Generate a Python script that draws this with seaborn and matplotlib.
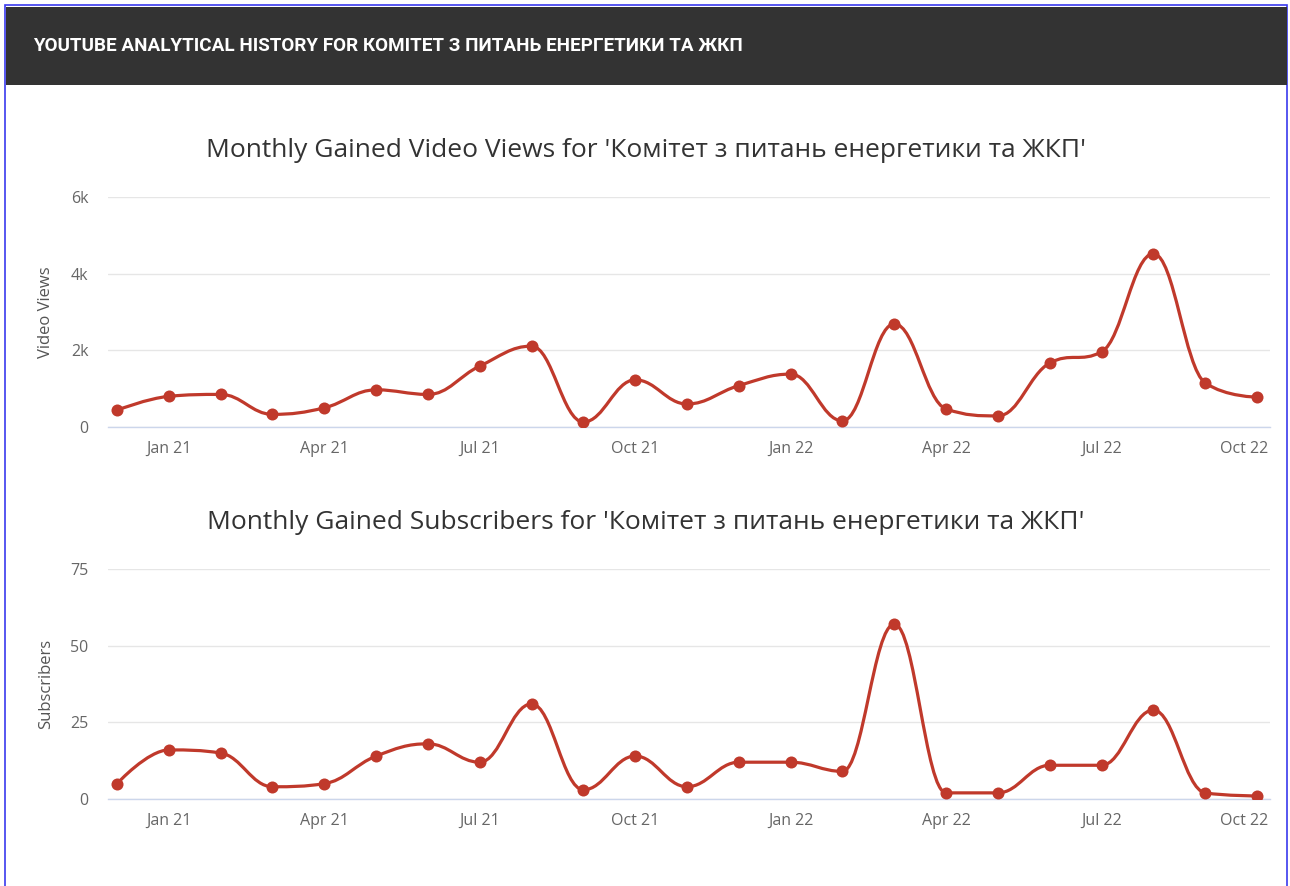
#!/usr/bin/env python3
"""
Monthly gained views / subscribers chart for a YouTube channel
"""

import numpy as np
import matplotlib
matplotlib.use('Agg')
import matplotlib.pyplot as plt
from matplotlib.path import Path
from matplotlib.patches import PathPatch, Rectangle
from matplotlib.transforms import ScaledTranslation
import seaborn as sns

# Data (one value per month, Dec 2020 .. Oct 2022)
months = ['Dec 20', 'Jan 21', 'Feb 21', 'Mar 21', 'Apr 21', 'May 21', 'Jun 21',
          'Jul 21', 'Aug 21', 'Sep 21', 'Oct 21', 'Nov 21', 'Dec 21', 'Jan 22',
          'Feb 22', 'Mar 22', 'Apr 22', 'May 22', 'Jun 22', 'Jul 22', 'Aug 22',
          'Sep 22', 'Oct 22']
views = [440, 800, 850, 330, 500, 970, 850, 1590, 2110, 130, 1230, 600,
         1080, 1380, 160, 2690, 470, 290, 1670, 1960, 4520, 1150, 780]
subscribers = [5, 16, 15, 4, 5, 14, 18, 12, 31, 3, 14, 4, 12, 12, 9, 57,
               2, 2, 11, 11, 29, 2, 1]

tick_months = ['Jan 21', 'Apr 21', 'Jul 21', 'Oct 21', 'Jan 22', 'Apr 22',
               'Jul 22', 'Oct 22']
views_ticks = [0, 2000, 4000, 6000]
views_tick_labels = ['0', '2k', '4k', '6k']
subs_ticks = [0, 25, 50, 75]

channel = 'Комітет з питань енергетики та ЖКП'

LINE_COLOR = '#c0392b'
GRID_COLOR = '#e6e6e6'
AXIS_COLOR = '#ccd6eb'
LABEL_COLOR = '#666666'

W, H = 1290, 886
AX_LEFT, AX_RIGHT = 108, 1270


def spline_path(x, y, smoothing=1.5):
    """Cubic bezier path through the points (Highcharts-like spline)"""
    n = len(x)
    denom = smoothing + 1
    left = [(x[0], y[0])] * n
    right = [(x[0], y[0])] * n
    for i in range(n):
        px, py = x[i], y[i]
        if i == 0 or i == n - 1:
            left[i] = right[i] = (px, py)
            continue
        lx, ly = x[i - 1], y[i - 1]
        nx, ny = x[i + 1], y[i + 1]
        lcx = (smoothing * px + lx) / denom
        lcy = (smoothing * py + ly) / denom
        rcx = (smoothing * px + nx) / denom
        rcy = (smoothing * py + ny) / denom
        if rcx != lcx:
            corr = (rcy - lcy) * (rcx - px) / (rcx - lcx) + py - rcy
            lcy += corr
            rcy += corr
        if lcy > ly and lcy > py:
            lcy = max(ly, py)
            rcy = 2 * py - lcy
        elif lcy < ly and lcy < py:
            lcy = min(ly, py)
            rcy = 2 * py - lcy
        if rcy > ny and rcy > py:
            rcy = max(ny, py)
            lcy = 2 * py - rcy
        elif rcy < ny and rcy < py:
            rcy = min(ny, py)
            lcy = 2 * py - rcy
        left[i] = (lcx, lcy)
        right[i] = (rcx, rcy)

    verts = [(x[0], y[0])]
    codes = [Path.MOVETO]
    for i in range(1, n):
        verts += [right[i - 1], left[i], (x[i], y[i])]
        codes += [Path.CURVE4] * 3
    return Path(verts, codes)


def draw_panel(fig, ax, values, title, ylabel, yticks, yticklabels):
    xs = np.arange(len(months))
    ys = np.array(values, dtype=float)

    ax.add_patch(PathPatch(spline_path(xs, ys), facecolor='none',
                           edgecolor=LINE_COLOR, lw=2.3, capstyle='round',
                           joinstyle='round', zorder=3))
    sns.scatterplot(x=xs, y=ys, ax=ax, color=LINE_COLOR, s=75,
                    edgecolor=LINE_COLOR, linewidth=0, zorder=4)

    ax.set_xlim(-0.174, len(months) - 1 + 0.25)
    ax.set_ylim(yticks[0], yticks[-1])
    ax.set_yticks(yticks)
    ax.set_yticklabels(yticklabels)
    ax.set_xticks([months.index(m) for m in tick_months])
    ax.set_xticklabels(tick_months)

    ax.grid(axis='y', color=GRID_COLOR, lw=1)
    ax.grid(axis='x', visible=False)
    for side in ['top', 'right', 'left']:
        ax.spines[side].set_visible(False)
    ax.spines['bottom'].set_color(AXIS_COLOR)
    ax.spines['bottom'].set_linewidth(1)
    ax.spines['bottom'].set_zorder(2)

    ax.tick_params(axis='y', length=0, pad=14, labelsize=11.5,
                   labelcolor=LABEL_COLOR)
    ax.tick_params(axis='x', length=7, width=1, color=AXIS_COLOR, pad=3,
                   labelsize=11.5, labelcolor=LABEL_COLOR)

    # last label is pulled inward, like the original chart does
    # (must come after tick_params, which resets label transforms)
    last = ax.get_xticklabels()[-1]
    last.set_transform(last.get_transform() +
                       ScaledTranslation(-0.13, 0, fig.dpi_scale_trans))

    ax.set_ylabel(ylabel, fontsize=12, color='#555555', labelpad=12)
    ax.set_xlabel('')
    # title is centred on the whole chart, not on the plot area
    title_x = (W / 2 + 1 - AX_LEFT) / (AX_RIGHT - AX_LEFT)
    ax.set_title(title, fontsize=19, color='#333333', pad=29, x=title_x)


def main():
    sns.set_theme(style='white')
    plt.rcParams['font.family'] = ['Open Sans', 'DejaVu Sans']

    fig = plt.figure(figsize=(W / 100, H / 100), dpi=100)
    fig.patch.set_facecolor('white')

    # frame and header bar, kept behind the axes
    fig.patches.append(Rectangle((5 / W, -0.01), 1282 / W, 1 - 5 / H + 0.01,
                                 transform=fig.transFigure, facecolor='white',
                                 edgecolor='#3a3aee', lw=1.2, zorder=-3))
    fig.patches.append(Rectangle((6 / W, 1 - 85 / H), 1281 / W, 78 / H,
                                 transform=fig.transFigure, facecolor='#333333',
                                 edgecolor='none', zorder=-2))
    fig.text(33 / W, 1 - 46 / H,
             'YOUTUBE ANALYTICAL HISTORY FOR ' + channel.upper(),
             color='white', fontsize=13.6, fontweight='bold', va='center',
             family=['Roboto', 'DejaVu Sans'])

    left, width = AX_LEFT / W, (AX_RIGHT - AX_LEFT) / W
    height = 230 / H
    ax1 = fig.add_axes([left, 1 - 427 / H, width, height])
    ax2 = fig.add_axes([left, 1 - 799 / H, width, height])
    for ax in (ax1, ax2):
        ax.set_zorder(1)
        ax.patch.set_alpha(0)

    draw_panel(fig, ax1, views, f"Monthly Gained Video Views for '{channel}'",
               'Video Views', views_ticks, views_tick_labels)
    draw_panel(fig, ax2, subscribers,
               f"Monthly Gained Subscribers for '{channel}'",
               'Subscribers', subs_ticks, [str(t) for t in subs_ticks])

    fig.savefig('out.png', dpi=100, facecolor='white')
    plt.close(fig)


if __name__ == '__main__':
    main()
